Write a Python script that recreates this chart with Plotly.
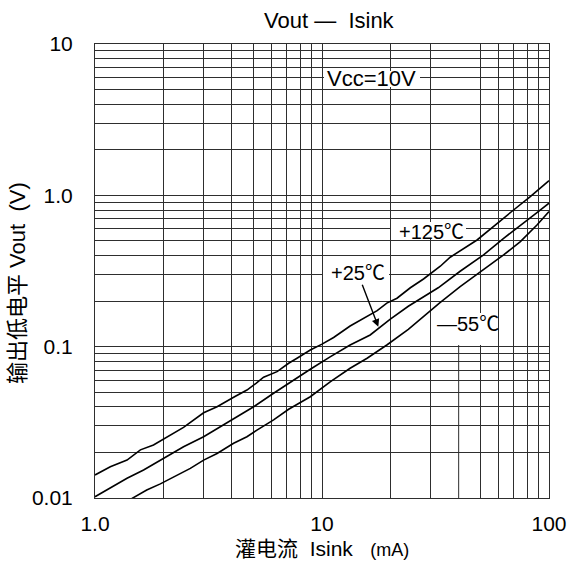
import plotly.graph_objects as go

# ---------------- data ----------------
isink_p125 = [1.0, 1.168, 1.384, 1.585, 1.81, 2.0, 2.455, 3.01, 3.45, 4.08, 4.67, 5.12, 5.53,
              6.34, 7.13, 7.76, 8.88, 10.0, 11.25, 13.3, 15.2, 17.5, 19.3, 21.4, 24.5, 28.0,
              33.2, 36.7, 48.2, 59.0, 69.8, 82.7, 100.0]
vout_p125 = [0.0142, 0.0161, 0.0178, 0.0208, 0.0224, 0.0244, 0.0293, 0.0366, 0.0401, 0.0463,
             0.0517, 0.0573, 0.0628, 0.0684, 0.0777, 0.0838, 0.0951, 0.104, 0.115, 0.137,
             0.154, 0.173, 0.194, 0.209, 0.245, 0.28, 0.34, 0.39, 0.507, 0.654, 0.80, 0.98, 1.25]

isink_p25 = [1.0, 1.168, 1.384, 1.637, 2.0, 2.455, 3.01, 3.68, 4.22, 5.0, 6.12, 7.13, 8.88,
             10.9, 13.3, 16.3, 18.1, 20.0, 24.0, 28.0, 32.5, 40.6, 51.5, 63.1, 74.8, 88.5, 100.0]
vout_p25 = [0.0102, 0.0116, 0.0135, 0.0153, 0.0183, 0.0218, 0.0254, 0.0304, 0.0344, 0.0401,
            0.0492, 0.0573, 0.0709, 0.0859, 0.1026, 0.1195, 0.136, 0.152, 0.185, 0.212,
            0.245, 0.315, 0.404, 0.52, 0.637, 0.769, 0.887]

isink_m55 = [1.45, 1.69, 1.94, 2.22, 2.63, 3.01, 3.45, 4.08, 4.67, 5.17, 6.12, 7.13, 8.88,
             10.9, 13.3, 15.8, 19.3, 24.0, 28.0, 33.0, 40.6, 51.5, 63.1, 74.8, 88.5, 100.0]
vout_m55 = [0.0099, 0.0113, 0.0124, 0.0138, 0.0157, 0.0178, 0.0197, 0.0230, 0.0254, 0.0281,
            0.0328, 0.0386, 0.0467, 0.0587, 0.0720, 0.0838, 0.1026, 0.130, 0.158, 0.195,
            0.249, 0.321, 0.404, 0.494, 0.637, 0.78]

x_grid = [1, 2, 3, 4, 5, 6, 7, 8, 9, 10, 20, 30, 50, 60, 70, 80, 90, 100]
x_ticktext = ["1.0", "", "", "", "", "", "", "", "", "10", "", "", "", "", "", "", "", "100"]
y_grid = [0.01, 0.02, 0.03, 0.04, 0.05, 0.06, 0.07, 0.08, 0.09,
          0.1, 0.2, 0.3, 0.4, 0.5, 0.6, 0.7, 0.8, 0.9,
          1, 2, 3, 4, 5, 6, 7, 8, 9, 10]
y_ticktext = ["0.01", "", "", "", "", "", "", "", "",
              "0.1", "", "", "", "", "", "", "", "",
              "1.0", "", "", "", "", "", "", "", "", "10"]
partial_grid_x = [40, 40]
partial_grid_y = [0.01, 0.1057]

# ---------------- layout helpers ----------------
W, H = 568, 561
L, R, T, B = 95, 19, 44, 63
PW, PH = W - L - R, H - T - B
GRID = "#2e2e2e"
FONT = "Liberation Sans, Arial, Noto Sans CJK SC"


def pxx(x):
    return (x - L) / PW


def pxy(y):
    return (H - B - y) / PH


fig = go.Figure()
for xs, ys in [(isink_p125, vout_p125), (isink_p25, vout_p25), (isink_m55, vout_m55)]:
    fig.add_trace(go.Scatter(x=xs, y=ys, mode="lines", line=dict(color="black", width=1.6),
                             hoverinfo="skip", showlegend=False))
fig.add_trace(go.Scatter(x=partial_grid_x, y=partial_grid_y, mode="lines",
                         line=dict(color=GRID, width=1), hoverinfo="skip", showlegend=False))

axis_common = dict(type="log", showgrid=True, gridcolor=GRID, gridwidth=1, automargin=False,
                   showline=True, mirror=True, linecolor=GRID, linewidth=1,
                   ticks="", zeroline=False, tickfont=dict(family=FONT, size=21, color="black"),
                   tickmode="array")

fig.update_layout(
    width=W, height=H, margin=dict(l=L, r=R, t=T, b=B, autoexpand=False),
    paper_bgcolor="white", plot_bgcolor="white",
    xaxis=dict(range=[0, 2], tickvals=x_grid, ticktext=x_ticktext, ticklabelstandoff=7, **axis_common),
    yaxis=dict(range=[-2, 1], tickvals=y_grid, ticktext=y_ticktext, ticklabelstandoff=17, **axis_common),
    showlegend=False,
)

# white label boxes
for (x0, x1, y0, y1) in [(324, 420, 71, 87), (391, 466, 222, 239), (323, 389, 265, 283), (434, 497, 313, 345)]:
    fig.add_shape(type="rect", xref="paper", yref="paper", x0=pxx(x0), x1=pxx(x1), y0=pxy(y1), y1=pxy(y0),
                  fillcolor="white", line=dict(width=0), layer="above")

ann_font = dict(family=FONT, size=20, color="black")
anns = [
    dict(text="Vout —  Isink", x=pxx(329), y=pxy(20), xanchor="center", yanchor="middle",
         font=dict(family=FONT, size=22, color="black")),
    dict(text="输出低电平 Vout  (V)", x=pxx(17), y=pxy(283), xanchor="center", yanchor="middle", textangle=-90,
         font=dict(family=FONT, size=22, color="black")),
    dict(text="灌电流  Isink   <span style='font-size:18px'>(mA)</span>", x=pxx(321.5), y=pxy(548),
         xanchor="center", yanchor="middle", font=dict(family=FONT, size=21, color="black")),
    dict(text="Vcc=10V", x=pxx(325), y=pxy(78), xanchor="left", yanchor="middle",
         font=dict(family=FONT, size=22, color="black")),
    dict(text="+125℃", x=pxx(397), y=pxy(232), xanchor="left", yanchor="middle", font=ann_font),
    dict(text="+25℃", x=pxx(329), y=pxy(273), xanchor="left", yanchor="middle", font=ann_font),
    dict(text="—55℃", x=pxx(435), y=pxy(324), xanchor="left", yanchor="middle", font=ann_font),
]
for a in anns:
    fig.add_annotation(xref="paper", yref="paper", showarrow=False, **a)

fig.add_annotation(xref="paper", yref="paper", x=pxx(378.3), y=pxy(326.7), ax=-16.6, ay=-43.4,
                   text="", showarrow=True, arrowhead=2, arrowsize=1.1, arrowwidth=1.4, arrowcolor="black")

fig.write_html("out.html", config={"displayModeBar": False},
               post_script="document.body.style.margin='0';document.body.style.overflow='hidden';")
